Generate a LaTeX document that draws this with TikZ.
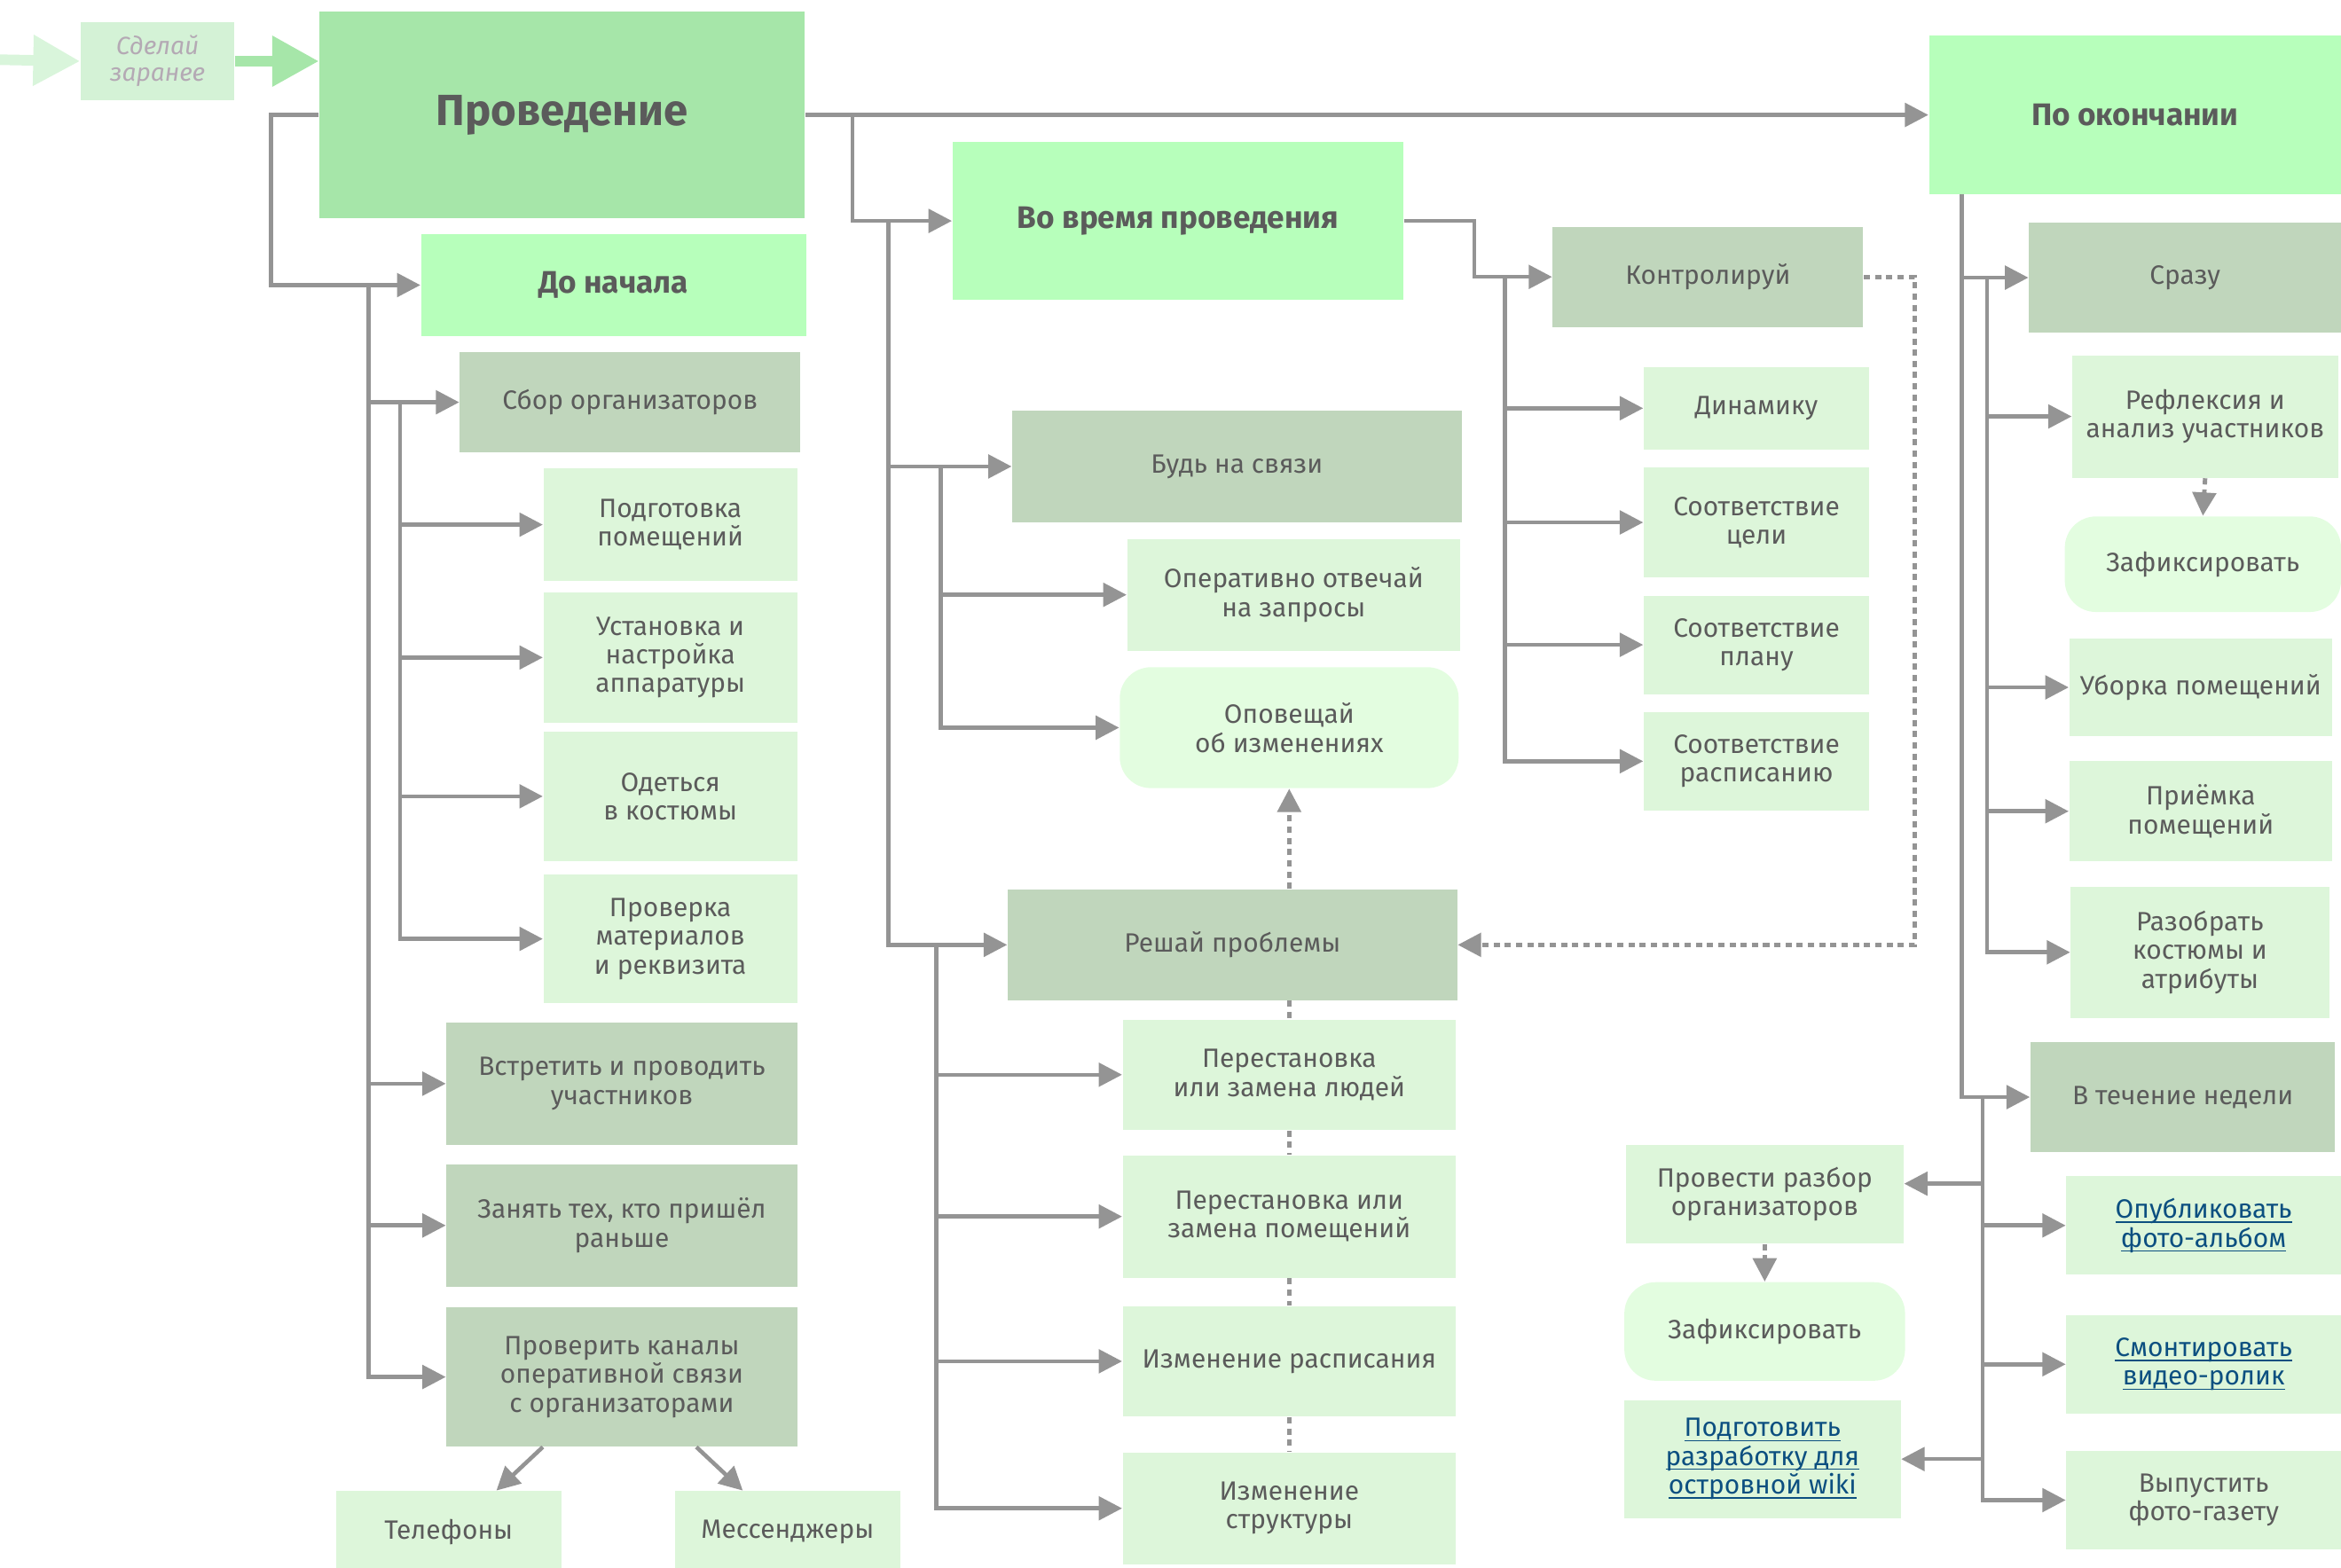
\documentclass[tikz,border=0pt]{standalone}
\usepackage{amsmath}
\usepackage{fontspec}
\setmainfont{Fira Sans}
\usetikzlibrary{arrows.meta,calc}
\definecolor{lineg}{HTML}{949494}
\definecolor{txt}{HTML}{5B5B5B}
\definecolor{topc}{HTML}{A6E6A9}
\definecolor{stagec}{HTML}{B7FFBB}
\definecolor{groupc}{HTML}{C0D6BC}
\definecolor{itemc}{HTML}{DDF6DA}
\definecolor{notec}{HTML}{E3FDE0}
\definecolor{prevc}{HTML}{D4F2D6}
\definecolor{prevarr}{HTML}{D9F5DB}
\definecolor{prevtxt}{HTML}{B4A9B4}
\definecolor{linkc}{HTML}{0C4F80}
\newcommand\ulink[1]{\underline{\smash[b]{#1}}}

\begin{document}
\begin{tikzpicture}[x=0.01683cm,y=-0.01683cm,
  spot/.style args={#1/#2/#3/#4}{minimum width={(#3-#1)*0.01683cm},minimum height={(#4-#2)*0.01683cm},at={({(#1+#3)/2},{(#2+#4)/2})}},
  box/.style={inner sep=0pt,align=center,text=txt,font=\fontsize{8.5}{9.2}\selectfont},
  top/.style={box,fill=topc,font=\fontsize{14}{16}\selectfont\bfseries},
  stage/.style={box,fill=stagec,font=\fontsize{10}{12}\selectfont\bfseries},
  group/.style={box,fill=groupc},
  item/.style={box,fill=itemc},
  note/.style={box,fill=notec,rounded corners=10pt},
  prev/.style={box,fill=prevc,text=prevtxt,font=\fontsize{8}{8.6}\selectfont\itshape},
  link/.style={text=linkc},
  arr/.style={draw=lineg,line width=1.3pt,-{Triangle[length=7.5pt,width=7.5pt]}},
  dots/.style={draw=lineg,line width=1.4pt,dash pattern=on 2pt off 1.6pt},
  dotarr/.style={dots,-{Triangle[length=7.5pt,width=7.5pt]}},
  bigarr/.style={line width=3.4pt,-{Triangle[length=15pt,width=15.5pt]}},
]
\useasboundingbox (0,0) rectangle (1568,1050);

% top row
\coordinate (start) at (0,40);
\node[prev,spot=54/15/157/67] (zaranee) {Сделай\\заранее};
\node[top,spot=214/8/539/146] (provedenie) {Проведение};
\node[stage,spot=282/157/540/225] (donachala) {До начала};
\node[stage,spot=638/95/940/201] (vovremya) {Во время проведения};
\node[stage,spot=1292/24/1568/130] (okonchanie) {По окончании};

% before start
\node[group,spot=308/236/536/303] (sbor) {Сбор организаторов};
\node[item,spot=364/314/534/389] (podgotovka) {Подготовка\\помещений};
\node[item,spot=364/397/534/484] (ustanovka) {Установка и\\настройка\\аппаратуры};
\node[item,spot=364/490/534/577] (odetsya) {Одеться\\в костюмы};
\node[item,spot=364/586/534/672] (proverka) {Проверка\\материалов\\и реквизита};
\node[group,spot=299/685/534/767] (vstretit) {Встретить и проводить\\участников};
\node[group,spot=299/780/534/862] (zanyat) {Занять тех, кто пришёл\\раньше};
\node[group,spot=299/876/534/969] (proverit) {Проверить каналы\\оперативной связи\\с организаторами};
\node[item,spot=225/999/376/1054] (telefony) {Телефоны};
\node[item,spot=452/999/603/1054] (messendzhery) {Мессенджеры};

% during
\node[group,spot=678/275/979/350] (svyaz) {Будь на связи};
\node[item,spot=755/361/978/436] (otvechay) {Оперативно отвечай\\на запросы};
\node[note,spot=750/447/977/528] (opoveshay) {Оповещай\\об изменениях};
\node[group,spot=675/596/976/670] (reshay) {Решай проблемы};
\node[item,spot=752/683/975/757] (lyudi) {Перестановка\\или замена людей};
\node[item,spot=752/774/975/856] (pomesch) {Перестановка или\\замена помещений};
\node[item,spot=752/875/975/949] (raspis) {Изменение расписания};
\node[item,spot=752/973/975/1048] (struktura) {Изменение\\структуры};
\node[group,spot=1040/152/1248/219] (kontrol) {Контролируй};
\node[item,spot=1101/246/1252/301] (dinamika) {Динамику};
\node[item,spot=1101/313/1252/387] (tsel) {Соответствие\\цели};
\node[item,spot=1101/399/1252/465] (plan) {Соответствие\\плану};
\node[item,spot=1101/477/1252/543] (raspisanie) {Соответствие\\расписанию};

% after
\node[group,spot=1359/149/1568/223] (srazu) {Сразу};
\node[item,spot=1388/238/1566/320] (refleksiya) {Рефлексия и\\анализ участников};
\node[note,spot=1383/346/1568/410] (fiks) {Зафиксировать};
\node[item,spot=1386/428/1562/493] (uborka) {Уборка помещений};
\node[item,spot=1386/510/1562/577] (priemka) {Приёмка\\помещений};
\node[item,spot=1387/594/1560/682] (razobrat) {Разобрать\\костюмы и\\атрибуты};
\node[group,spot=1360/698/1564/772] (nedelya) {В течение недели};
\node[item,spot=1089/767/1275/833] (razbor) {Провести разбор\\организаторов};
\node[note,spot=1088/859/1276/925] (fiks2) {Зафиксировать};
\node[item,link,spot=1088/938/1273/1017] (wiki) {\ulink{Подготовить}\\\ulink{разработку для}\\\ulink{островной wiki}};
\node[item,link,spot=1384/788/1568/854] (albom) {\ulink{Опубликовать}\\\ulink{фото-альбом}};
\node[item,link,spot=1384/881/1568/947] (rolik) {\ulink{Смонтировать}\\\ulink{видео-ролик}};
\node[item,spot=1384/972/1568/1038] (gazeta) {Выпустить\\фото-газету};

% connectors
\draw[bigarr,draw=prevarr,fill=prevarr] (start) -- (zaranee.west);
\draw[bigarr,draw=topc,fill=topc] (zaranee.east) -- (provedenie.west |- zaranee.east);
\draw[arr] (provedenie.east) -- (okonchanie.west);
\draw[arr] (provedenie.west) -- ++(-32,0) |- (donachala.west);
\coordinate (t1) at (247,191);
\foreach \n in {sbor,vstretit,zanyat,proverit} \draw[arr] (t1) |- (\n.west);
\coordinate (t2) at (268,269.5);
\foreach \n in {podgotovka,ustanovka,odetsya,proverka} \draw[arr] (t2) |- (\n.west);
\draw[arr] ($(proverit.south west)+(65,0)$) -- ($(telefony.north)+(32,0)$);
\draw[arr] ($(proverit.south east)+(-68,0)$) -- ($(messendzhery.north)+(-30,0)$);

\coordinate (t3) at (571,77);
\draw[arr] (t3) |- (vovremya.west);
\coordinate (t4) at (595,148);
\foreach \n in {svyaz,reshay} \draw[arr] (t4) |- (\n.west);
\coordinate (t5) at (630,312.5);
\foreach \n in {otvechay,opoveshay} \draw[arr] (t5) |- (\n.west);
\coordinate (t6) at (627,633);
\foreach \n in {lyudi,pomesch,raspis,struktura} \draw[arr] (t6) |- (\n.west);
\draw[dotarr] (opoveshay.south |- reshay.north) -- (opoveshay.south);
\draw[dots] (lyudi.north |- reshay.south) -- (lyudi.north);
\draw[dots] (lyudi.south) -- (pomesch.north);
\draw[dots] (pomesch.south) -- (raspis.north);
\draw[dots] (raspis.south) -- (struktura.north);

\draw[arr] (vovremya.east) -- ++(47,0) |- (kontrol.west);
\coordinate (t7) at (1008,185.5);
\foreach \n in {dinamika,tsel,plan,raspisanie} \draw[arr] (t7) |- (\n.west);
\draw[dotarr] (kontrol.east) -- ++(34,0) |- (reshay.east);

\coordinate (t8) at (1314,130);
\foreach \n in {srazu,nedelya} \draw[arr] (t8) |- (\n.west);
\coordinate (t9) at (1331,186);
\foreach \n in {refleksiya,uborka,priemka,razobrat} \draw[arr] (t9) |- (\n.west);
\draw[dotarr] (refleksiya.south) -- (fiks.north);
\coordinate (t10) at (1328,735);
\foreach \n in {albom,rolik,gazeta} \draw[arr] (t10) |- (\n.west);
\draw[arr] (t10) |- (wiki.east);
\draw[arr] (t10) |- ($(razbor.east)+(0,-7)$);
\draw[dotarr] (razbor.south) -- (fiks2.north);
\end{tikzpicture}
\end{document}
